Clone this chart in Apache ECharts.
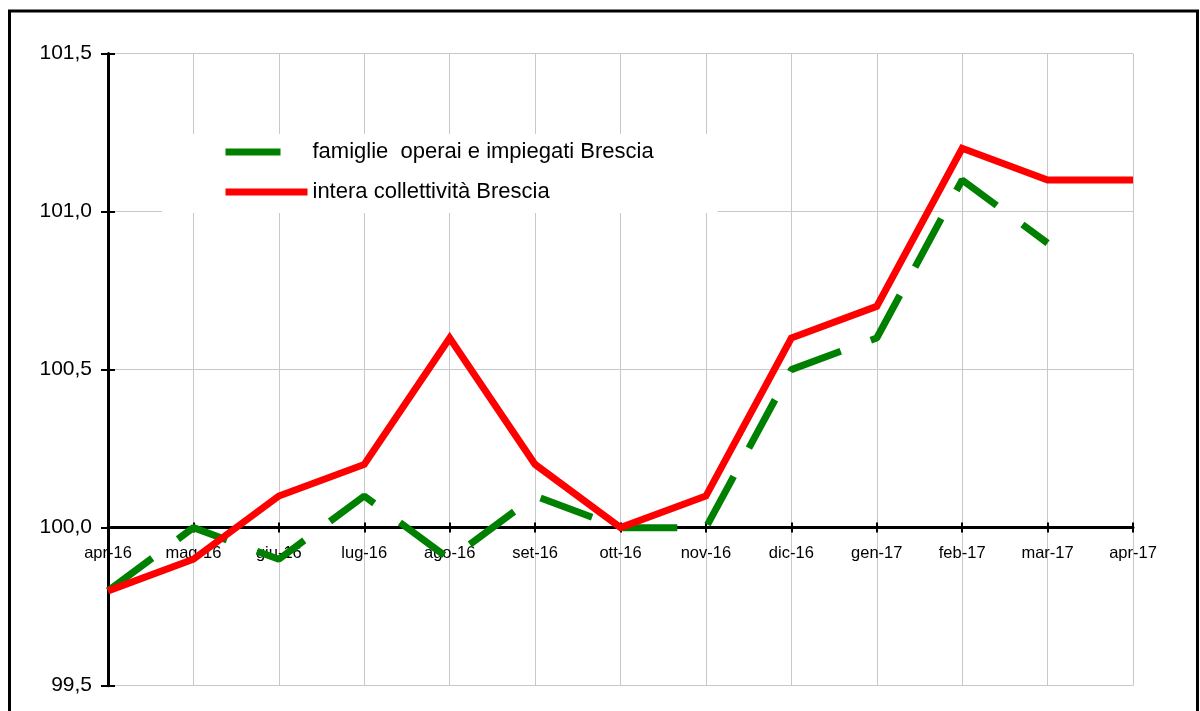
<!DOCTYPE html>
<html>
<head>
<meta charset="utf-8">
<script src="https://cdn.jsdelivr.net/npm/echarts@6/dist/echarts.min.js"></script>
<style>
  html, body { margin: 0; padding: 0; background: #fff; }
  #main { width: 1200px; height: 711px; }
</style>
</head>
<body>
<div id="main"></div>
<script>
const months = ['apr-16', 'mag-16', 'giu-16', 'lug-16', 'ago-16', 'set-16', 'ott-16',
                'nov-16', 'dic-16', 'gen-17', 'feb-17', 'mar-17', 'apr-17'];
const famiglie = [99.8, 100.0, 99.9, 100.1, 99.9, 100.1, 100.0, 100.0, 100.5, 100.6, 101.1, 100.9, '-'];
const collettivita = [99.8, 99.9, 100.1, 100.2, 100.6, 100.2, 100.0, 100.1, 100.6, 100.7, 101.2, 101.1, 101.1];
const seriesNames = ['famiglie  operai e impiegati Brescia', 'intera collettività Brescia'];

const FONT = "'Liberation Sans', Arial, sans-serif";
const chart = echarts.init(document.getElementById('main'));

// x axis sits on the 100,0 line; offset it up from the bottom of the grid
const axisShift = -158.2;

const opt = {
    animation: false,
    backgroundColor: '#fff',
    textStyle: { fontFamily: FONT, color: '#000' },
    grid: { left: 108, right: 67, top: 53.5, bottom: 25.3 },
    graphic: [{
        type: 'rect',
        shape: { x: 9.5, y: 11, width: 1188, height: 740 },
        style: { fill: 'none', stroke: '#000', lineWidth: 3 },
        z: 100
    }],
    legend: {
        orient: 'vertical',
        left: 162,
        top: 134,
        padding: [6, 64, 9, 60],
        backgroundColor: '#fff',
        itemWidth: 82,
        itemHeight: 24,
        itemGap: 16,
        // hide the circle that line series put in the middle of the legend line
        itemStyle: { color: 'transparent', borderWidth: 0 },
        lineStyle: { width: 7 },
        textStyle: { fontFamily: FONT, fontSize: 22, lineHeight: 24, color: '#000' },
        data: seriesNames
    },
    xAxis: [{
        type: 'category',
        data: months,
        boundaryGap: false,
        position: 'bottom',
        offset: axisShift,
        axisLine: { onZero: false, lineStyle: { color: '#000', width: 3 } },
        axisTick: { show: true, length: 5, lineStyle: { color: '#000', width: 2 } },
        axisLabel: { fontFamily: FONT, fontSize: 16.5, color: '#000', margin: 17, interval: 0 },
        splitLine: { show: true, lineStyle: { color: '#c8c8c8', width: 1 } }
    }, {
        type: 'category',
        data: months,
        boundaryGap: false,
        position: 'bottom',
        offset: axisShift,
        axisLine: { show: false, onZero: false },
        axisTick: { show: true, inside: true, length: 5, lineStyle: { color: '#000', width: 2 } },
        axisLabel: { show: false },
        splitLine: { show: false }
    }],
    yAxis: [{
        type: 'value',
        min: 99.5,
        max: 101.5,
        interval: 0.5,
        axisLine: { show: true, lineStyle: { color: '#000', width: 3 } },
        axisTick: { show: true, length: 7, lineStyle: { color: '#000', width: 2 } },
        axisLabel: {
            fontFamily: FONT, fontSize: 21, color: '#000', margin: 16,
            padding: [4, 0, 0, 0],
            formatter: v => v.toFixed(1).replace('.', ',')
        },
        splitLine: { show: true, lineStyle: { color: '#c8c8c8', width: 1 } }
    }, {
        type: 'value',
        position: 'left',
        min: 99.5,
        max: 101.5,
        interval: 0.5,
        axisLine: { show: false },
        axisTick: { show: true, inside: true, length: 7, lineStyle: { color: '#000', width: 2 } },
        axisLabel: { show: false },
        splitLine: { show: false }
    }],
    series: [{
        name: seriesNames[0],
        type: 'line',
        data: famiglie,
        symbol: 'none',
        lineStyle: { color: '#008000', width: 7, type: [55, 32], cap: 'butt' },
        itemStyle: { color: '#008000' },
        z: 3
    }, {
        name: seriesNames[1],
        type: 'line',
        data: collettivita,
        symbol: 'none',
        lineStyle: { color: '#ff0000', width: 7, cap: 'butt', join: 'miter' },
        itemStyle: { color: '#ff0000' },
        z: 4
    }]
};
chart.setOption(opt);
</script>
</body>
</html>
